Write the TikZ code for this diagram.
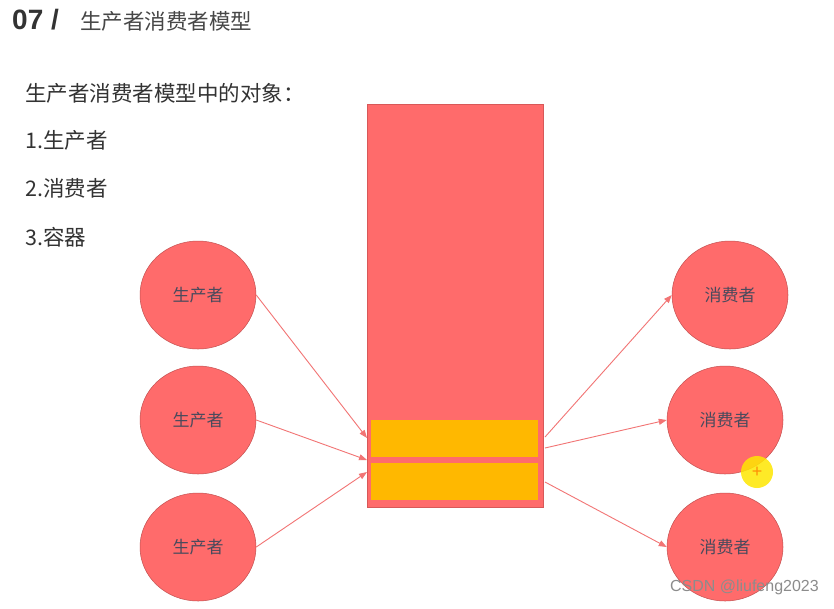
\documentclass[tikz,border=0pt]{standalone}
\usepackage{fontspec}
\setmainfont{Noto Sans CJK SC}
\newfontfamily\latinsans{Liberation Sans}
\usetikzlibrary{arrows.meta,shapes.geometric}
\definecolor{boxred}{HTML}{FF6B6B}
\definecolor{boxedge}{HTML}{D85858}
\definecolor{slot}{HTML}{FFB800}
\definecolor{arrowc}{HTML}{F27474}
\definecolor{lbl}{HTML}{4A4A5C}
\definecolor{txt}{HTML}{333333}
\tikzset{
  actor/.style={ellipse, draw=boxedge!90!black, line width=0.5pt, fill=boxred, minimum width=116pt, minimum height=108pt, inner sep=0pt, font=\fontsize{17}{17}\selectfont, text=lbl},
  flow/.style={draw=arrowc, line width=0.9pt, -{Triangle[length=8pt,width=6pt]}},
  item/.style={anchor=west, font=\fontsize{21.5}{21.5}\selectfont, text=txt, inner sep=0pt}
}
\begin{document}
\begin{tikzpicture}[x=1pt,y=-1pt]
\useasboundingbox[fill=white] (0,0) rectangle (834,608);
% title
\node[anchor=west, inner sep=0pt, text=txt, font=\latinsans\bfseries\fontsize{28}{28}\selectfont] (num) at (12,20) {07 /};
\node[anchor=west, inner sep=0pt, text=txt!90, font=\fontsize{21.5}{21.5}\selectfont] (ttl) at (80,21) {生产者消费者模型};
% list
\node[item] (l0) at (25,93) {生产者消费者模型中的对象：};
\node[item] (l1) at (25,140) {1.生产者};
\node[item] (l2) at (25,188) {2.消费者};
\node[item] (l3) at (25,237) {3.容器};
% container
\node[draw=boxedge, line width=0.7pt, fill=boxred, minimum width=176pt, minimum height=403pt, inner sep=0pt] (cont) at (455,305.5) {};
\node[fill=slot, minimum width=167pt, minimum height=37pt, inner sep=0pt] (s1) at (454.5,438.5) {};
\node[fill=slot, minimum width=167pt, minimum height=37pt, inner sep=0pt] (s2) at (454.5,481.5) {};
% producers
\node[actor] (p1) at (198,295) {生产者};
\node[actor] (p2) at (198,420) {生产者};
\node[actor] (p3) at (198,547) {生产者};
% consumers
\node[actor] (c1) at (730,295) {消费者};
\node[actor] (c2) at (725,420) {消费者};
\node[actor] (c3) at (725,547) {消费者};
% connector end points on container
\coordinate (in1) at (367,438);
\coordinate (in2) at (367,460);
\coordinate (in3) at (367,472);
\coordinate (o1) at (545,437);
\coordinate (o2) at (545,448);
\coordinate (o3) at (545,482);
\draw[flow] (p1.east) -- (in1);
\draw[flow] (p2.east) -- (in2);
\draw[flow] (p3.east) -- (in3);
\draw[flow] (o1) -- (c1.west);
\draw[flow] (o2) -- (c2.west);
\draw[flow] (o3) -- (c3.west);
% cursor highlight
\node[circle, fill=yellow!90!orange, fill opacity=0.85, minimum size=32pt, inner sep=0pt, text=orange, font=\latinsans\fontsize{18}{18}\selectfont] (cur) at (757,472) {+};
% watermark
\node[anchor=east, inner sep=0pt, text=black!45, font=\latinsans\fontsize{16}{16}\selectfont] (wm) at (819,587) {CSDN @liufeng2023};
\end{tikzpicture}
\end{document}
